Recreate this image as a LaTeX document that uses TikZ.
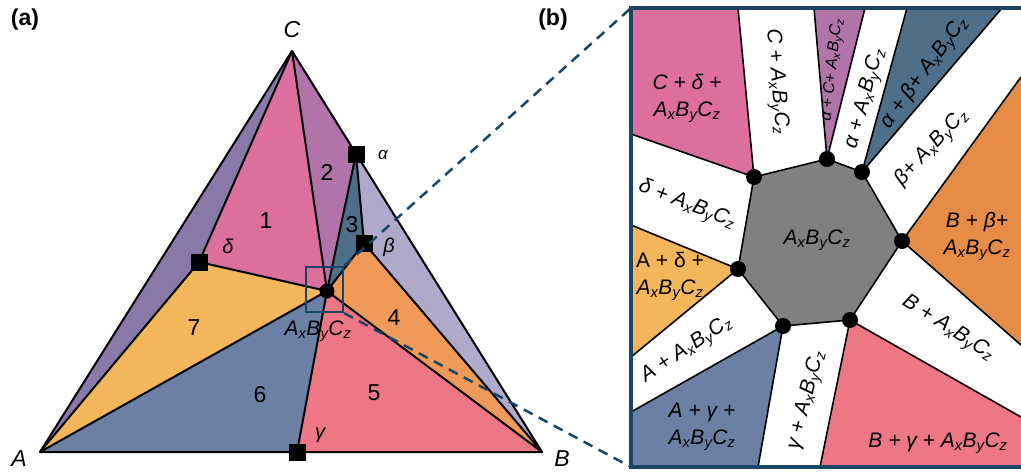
\documentclass[tikz,border=0pt]{standalone}
\usepackage{fontspec}
\setmainfont{Liberation Sans}
\definecolor{regpurple}{HTML}{8879A9}
\definecolor{regpink}{HTML}{DC6F9E}
\definecolor{regmauve}{HTML}{B074A8}
\definecolor{regteal}{HTML}{4F6F88}
\definecolor{reglav}{HTML}{B0A9C9}
\definecolor{regorange}{HTML}{F09A5A}
\definecolor{regorangeb}{HTML}{E68C46}
\definecolor{regsalmon}{HTML}{EE7785}
\definecolor{regslate}{HTML}{6B80A4}
\definecolor{regyellow}{HTML}{F4B65A}
\definecolor{framblue}{HTML}{1B4565}
\newcommand{\axbycz}{\textit{A\textsubscript{x}B\textsubscript{y}C\textsubscript{z}}}

\begin{document}
\begin{tikzpicture}[x=1pt, y=-1pt,
        bline/.style={line width=2pt, line join=round},
        thinline/.style={line width=1.6pt, line join=round},
        sqmark/.style={fill=black, minimum size=17pt, inner sep=0pt},
        hdot/.style={circle, fill=black, minimum size=16pt, inner sep=0pt},
        lbl/.style={font=\fontsize{21}{27}\selectfont, align=center, inner sep=0pt},
        vlbl/.style={font=\fontsize{23}{27}\selectfont\itshape, inner sep=0pt},
        num/.style={font=\fontsize{23}{27}\selectfont, inner sep=0pt},
        panel/.style={font=\fontsize{23}{27}\selectfont\bfseries, inner sep=0pt}]
    \useasboundingbox (0,0) rectangle (1021,472);

    % (a) ternary triangle
    \coordinate (A) at (40,452);
    \coordinate (B) at (542,452);
    \coordinate (C) at (292,51);
    \coordinate (P) at (327,291);
    \coordinate (al) at (356,154);
    \coordinate (be) at (364,243);
    \coordinate (de) at (199,262);
    \coordinate (ga) at (297,452);

    \fill[regpurple] (A) -- (C) -- (de) -- cycle;
    \fill[regpink] (C) -- (de) -- (P) -- cycle;
    \fill[regmauve] (C) -- (al) -- (P) -- cycle;
    \fill[regteal] (al) -- (be) -- (P) -- cycle;
    \fill[reglav] (al) -- (B) -- (be) -- cycle;
    \fill[regorange] (be) -- (B) -- (P) -- cycle;
    \fill[regsalmon] (P) -- (B) -- (ga) -- cycle;
    \fill[regslate] (A) -- (ga) -- (P) -- cycle;
    \fill[regyellow] (A) -- (P) -- (de) -- cycle;

    \draw[bline] (A) -- (B) -- (C) -- cycle;
    \draw[bline] (C) -- (de) -- (A);
    \draw[bline] (C) -- (P) -- (de);
    \draw[bline] (al) -- (P) -- (be) -- cycle;
    \draw[bline] (be) -- (B) -- (P) -- (ga);
    \draw[bline] (A) -- (P);

    \node[sqmark] (alpha) at (al) {};
    \node[sqmark] (beta) at (be) {};
    \node[sqmark] (delta) at (de) {};
    \node[sqmark] (gamma) at (ga) {};
    \node[hdot, minimum size=15pt] (center) at (P) {};

    \node[vlbl] (labC) at (292,30) {C};
    \node[vlbl] (labA) at (19,459) {A};
    \node[vlbl] (labB) at (562,459) {B};
    \node[vlbl, font=\fontsize{17}{20}\selectfont\itshape] (labal) at (383,155) {α};
    \node[vlbl, font=\fontsize{20}{24}\selectfont\itshape] (labbe) at (389,247) {β};
    \node[vlbl, font=\fontsize{20}{24}\selectfont\itshape] (labde) at (228,246) {δ};
    \node[vlbl, font=\fontsize{20}{24}\selectfont\itshape] (labga) at (320,435) {γ};
    \node[lbl] (labP) at (318,331) {\axbycz};

    \node[num] (r1) at (266,221) {1};
    \node[num] (r2) at (327,172) {2};
    \node[num] (r3) at (352,225) {3};
    \node[num] (r4) at (394,318) {4};
    \node[num] (r5) at (374,393) {5};
    \node[num] (r6) at (260,395) {6};
    \node[num] (r7) at (194,328) {7};

    \node[panel] (pa) at (25,20) {(a)};
    \node[panel] (pb) at (553,20) {(b)};

    % (b) zoom of the centre
    \coordinate (btl) at (631,8);
    \coordinate (bbl) at (631,467);
    \node[draw=framblue, line width=2pt, minimum width=37pt, minimum height=45pt, inner sep=0pt] (zoombox) at (324.5,289.5) {};
    \draw[framblue, line width=2.5pt, dash pattern=on 10pt off 7pt] (zoombox.north east) -- (btl);
    \draw[framblue, line width=2.5pt, dash pattern=on 10pt off 7pt] (zoombox.south east) -- (bbl);

    \coordinate (h1) at (754,177);
    \coordinate (h2) at (827,159);
    \coordinate (h3) at (862,172);
    \coordinate (h4) at (902,241);
    \coordinate (h5) at (850,320);
    \coordinate (h6) at (783,326);
    \coordinate (h7) at (738,269);
    \coordinate (t1) at (738,8);
    \coordinate (t2) at (814,8);
    \coordinate (t3) at (865,8);
    \coordinate (t4) at (907,8);
    \coordinate (t5) at (1002,8);
    \coordinate (k1) at (1021,77);
    \coordinate (k2) at (1021,345);
    \coordinate (k3) at (1021,417);
    \coordinate (brc) at (1021,467);
    \coordinate (u1) at (820,467);
    \coordinate (u2) at (758,467);
    \coordinate (l1) at (631,412);
    \coordinate (l2) at (631,357);
    \coordinate (l3) at (631,225);
    \coordinate (l4) at (631,134);

    \fill[regpink] (btl) -- (t1) -- (h1) -- (l4) -- cycle;
    \fill[regmauve] (t2) -- (t3) -- (h2) -- cycle;
    \fill[regteal] (t4) -- (t5) -- (h3) -- cycle;
    \fill[regorangeb] (k1) -- (k2) -- (h4) -- cycle;
    \fill[regsalmon] (k3) -- (brc) -- (u1) -- (h5) -- cycle;
    \fill[regslate] (u2) -- (bbl) -- (l1) -- (h6) -- cycle;
    \fill[regyellow] (l2) -- (l3) -- (h7) -- cycle;
    \draw[thinline, fill=gray] (h1) -- (h2) -- (h3) -- (h4) -- (h5) -- (h6) -- (h7) -- cycle;

    \draw[thinline] (l4) -- (h1) -- (t1);
    \draw[thinline] (t2) -- (h2) -- (t3);
    \draw[thinline] (t4) -- (h3) -- (t5);
    \draw[thinline] (k1) -- (h4) -- (k2);
    \draw[thinline] (k3) -- (h5) -- (u1);
    \draw[thinline] (u2) -- (h6) -- (l1);
    \draw[thinline] (l2) -- (h7) -- (l3);

    \node[hdot] (d1) at (h1) {};
    \node[hdot] (d2) at (h2) {};
    \node[hdot] (d3) at (h3) {};
    \node[hdot] (d4) at (h4) {};
    \node[hdot] (d5) at (h5) {};
    \node[hdot] (d6) at (h6) {};
    \node[hdot] (d7) at (h7) {};

    \draw[framblue, line width=4.5pt] (1030,8) -- (btl) -- (bbl) -- (1030,467);

    \node[lbl] (mid) at (817,240) {\axbycz};
    \node[lbl] (sCde) at (687,98) {\textit{C + δ +}\\\axbycz};
    \node[lbl, rotate=-85] (sC) at (776,82) {\textit{C +} \axbycz};
    \node[lbl, font=\fontsize{16}{19}\selectfont, rotate=84] (salC) at (833,70) {\textit{α + C+} \axbycz};
    \node[lbl, rotate=75] (sal) at (866,99) {\textit{α +} \axbycz};
    \node[lbl, rotate=54] (salbe) at (925,73) {\textit{α + β+} \axbycz};
    \node[lbl, rotate=47] (sbe) at (932,148) {\textit{β+} \axbycz};
    \node[lbl] (sBbe) at (977,236) {\textit{B + β+}\\\axbycz};
    \node[lbl, rotate=-32] (sB) at (948,329) {\textit{B +} \axbycz};
    \node[lbl] (sBga) at (938,443) {\textit{B + γ +} \axbycz};
    \node[lbl, rotate=76] (sga) at (807,400) {\textit{γ +} \axbycz};
    \node[lbl] (sAga) at (702,427) {\textit{A + γ +}\\\axbycz};
    \node[lbl, rotate=34] (sA) at (687,350) {\textit{A +} \axbycz};
    \node[lbl] (sAde) at (670,276) {A + δ +\\\axbycz};
    \node[lbl, rotate=-21] (sde) at (687,205) {\textit{δ +} \axbycz};
\end{tikzpicture}
\end{document}
